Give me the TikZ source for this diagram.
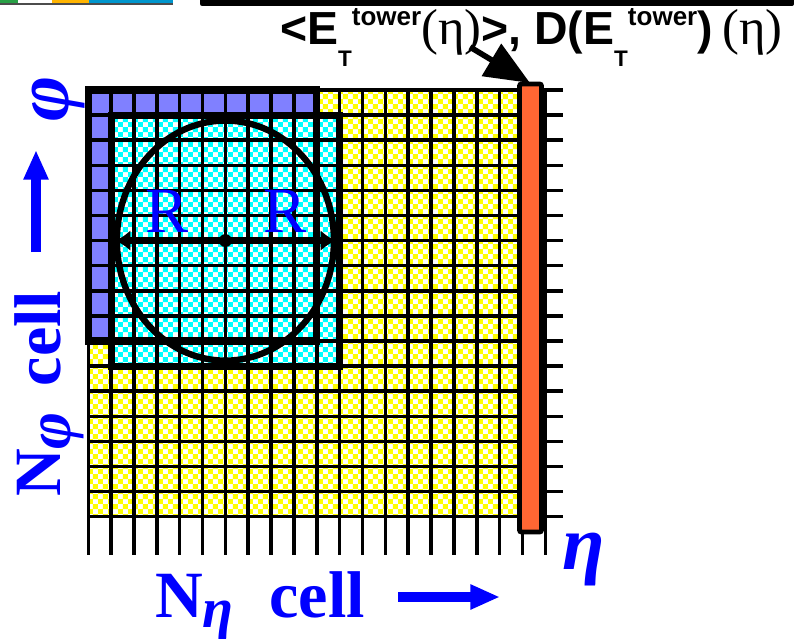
\documentclass[tikz,border=0pt]{standalone}
\usepackage{fontspec}
\setmainfont{Liberation Serif}
\newfontfamily\titlesans{Liberation Sans}
\usepackage{xcolor}
\usetikzlibrary{arrows.meta, patterns}

\definecolor{celyellow}{RGB}{255,255,0}
\definecolor{celcyan}{RGB}{0,255,255}
\definecolor{conepurple}{RGB}{128,128,255}
\definecolor{towerred}{RGB}{255,102,51}
\definecolor{axisblue}{RGB}{0,0,255}
\definecolor{stripgreen}{RGB}{40,160,70}
\definecolor{striporange}{RGB}{255,180,0}
\definecolor{stripblue}{RGB}{0,150,205}

% coarse checker for the cells
\pgfdeclarepatternformonly{cellchecker}{\pgfpointorigin}{\pgfqpoint{14pt}{14pt}}{\pgfqpoint{14pt}{14pt}}{%
  \pgfpathrectangle{\pgfpointorigin}{\pgfqpoint{7.1pt}{7.1pt}}%
  \pgfpathrectangle{\pgfqpoint{7pt}{7pt}}{\pgfqpoint{7.1pt}{7.1pt}}%
  \pgfusepath{fill}}

% pieces of the title
\newcommand{\lowT}{\raisebox{-30pt}{\fontsize{32}{32}\selectfont T}}
\newcommand{\uptower}{\raisebox{28pt}{\fontsize{37}{37}\selectfont tower}}
\newcommand{\symeta}{{\rmfamily\mdseries\fontsize{72}{72}\selectfont (η)}}

\begin{document}
\begin{tikzpicture}[
  x=0.5mm, y=-0.5mm,
  yellowcells/.style={fill=white, postaction={pattern=cellchecker, pattern color=celyellow}},
  cyancells/.style={fill=white, postaction={pattern=cellchecker, pattern color=celcyan}},
  gridline/.style={line width=5pt},
  blockborder/.style={line width=10pt},
  towerbar/.style={draw, line width=7pt, fill=towerred, rounded corners=3pt},
  radarrow/.style={line width=9pt, -{Latex[length=22pt, width=30pt]}},
  pointer/.style={line width=8pt, -{Triangle[length=64pt, width=52pt]}},
  axarrow/.style={draw=axisblue, line width=13pt, -{Triangle[length=42pt, width=33pt]}},
  bluelabel/.style={text=axisblue, inner sep=0pt, font=\fontsize{94}{94}\selectfont\bfseries},
  axisname/.style={text=axisblue, inner sep=0pt, font=\fontsize{110}{110}\selectfont\bfseries\itshape},
  rlabel/.style={text=axisblue, inner sep=0pt, font=\fontsize{92}{92}\selectfont}
]
\useasboundingbox (0,0) rectangle (794,642);

% slide remnants along the top edge
\fill[stripgreen] (0,0) rectangle (18,3.5);
\fill[striporange] (52,0) rectangle (89,3.5);
\fill[stripblue] (89,0) rectangle (173,3.5);
\fill[black!70] (0,3.5) rectangle (173,5);
\fill[black, rounded corners=3pt] (200,-5) rectangle (794,6);

% cells
\path[yellowcells] (88.3,90) rectangle (522.45,516.7);
\fill[conepurple] (88.3,90) rectangle (316.8,341);
\path[cyancells] (111.15,115.1) rectangle (339.65,366.1);

% eta x phi grid
\foreach \k in {0,...,20}
  \draw[gridline] ({88.3+22.85*\k},90) -- ({88.3+22.85*\k},555);
\foreach \j in {0,...,17}
  \draw[gridline] (88.3,{90+25.1*\j}) -- (563,{90+25.1*\j});

\draw[blockborder] (88.3,90) rectangle (316.8,341);
\draw[blockborder] (111.15,115.1) rectangle (339.65,366.1);

% cone
\draw[line width=9pt] (225.4,240.6) ellipse [x radius=108.5, y radius=120];
\coordinate (ctr) at (225.4,240.6);
\coordinate (rleftend) at (115,240.6);
\coordinate (rrightend) at (336,240.6);
\draw[radarrow] (ctr) -- (rleftend);
\draw[radarrow] (ctr) -- (rrightend);
\fill (ctr) circle [radius=6.5];
\node[rlabel, anchor=base west] (rleft) at (145,232) {R};
\node[rlabel, anchor=base west] (rright) at (263,232) {R};

% tower column
\draw[towerbar] (519.5,84) rectangle (541.5,532);
\coordinate (bartop) at (530,83);

\node[anchor=base west, inner sep=0pt, font=\titlesans\bfseries\fontsize{66}{72}\selectfont] (title) at (280,45)
  {<E\lowT\uptower\symeta>, D(E\lowT\uptower)\hspace{14pt}\symeta};
\coordinate (pointtail) at (470,47);
\draw[pointer] (pointtail) -- (bartop);

% axes
\node[bluelabel, anchor=base west] (netacell) at (155,617)
  {N\raisebox{-15pt}{\fontsize{80}{80}\selectfont\itshape η}\hspace{51pt}cell};
\coordinate (etaarrowstart) at (398,597);
\coordinate (etaarrowend) at (500,597);
\draw[axarrow] (etaarrowstart) -- (etaarrowend);
\node[axisname, anchor=base west] (etaaxis) at (562,569) {η};

\node[bluelabel, rotate=90, anchor=base west] (nphicell) at (60,497)
  {N\raisebox{-15pt}{\fontsize{90}{90}\selectfont\itshape φ}\hspace{37pt}cell};
\coordinate (phiarrowstart) at (36,252);
\coordinate (phiarrowend) at (36,150);
\draw[axarrow] (phiarrowstart) -- (phiarrowend);
\node[axisname, rotate=90, anchor=base west] (phiaxis) at (68,122) {φ};

\end{tikzpicture}
\end{document}
